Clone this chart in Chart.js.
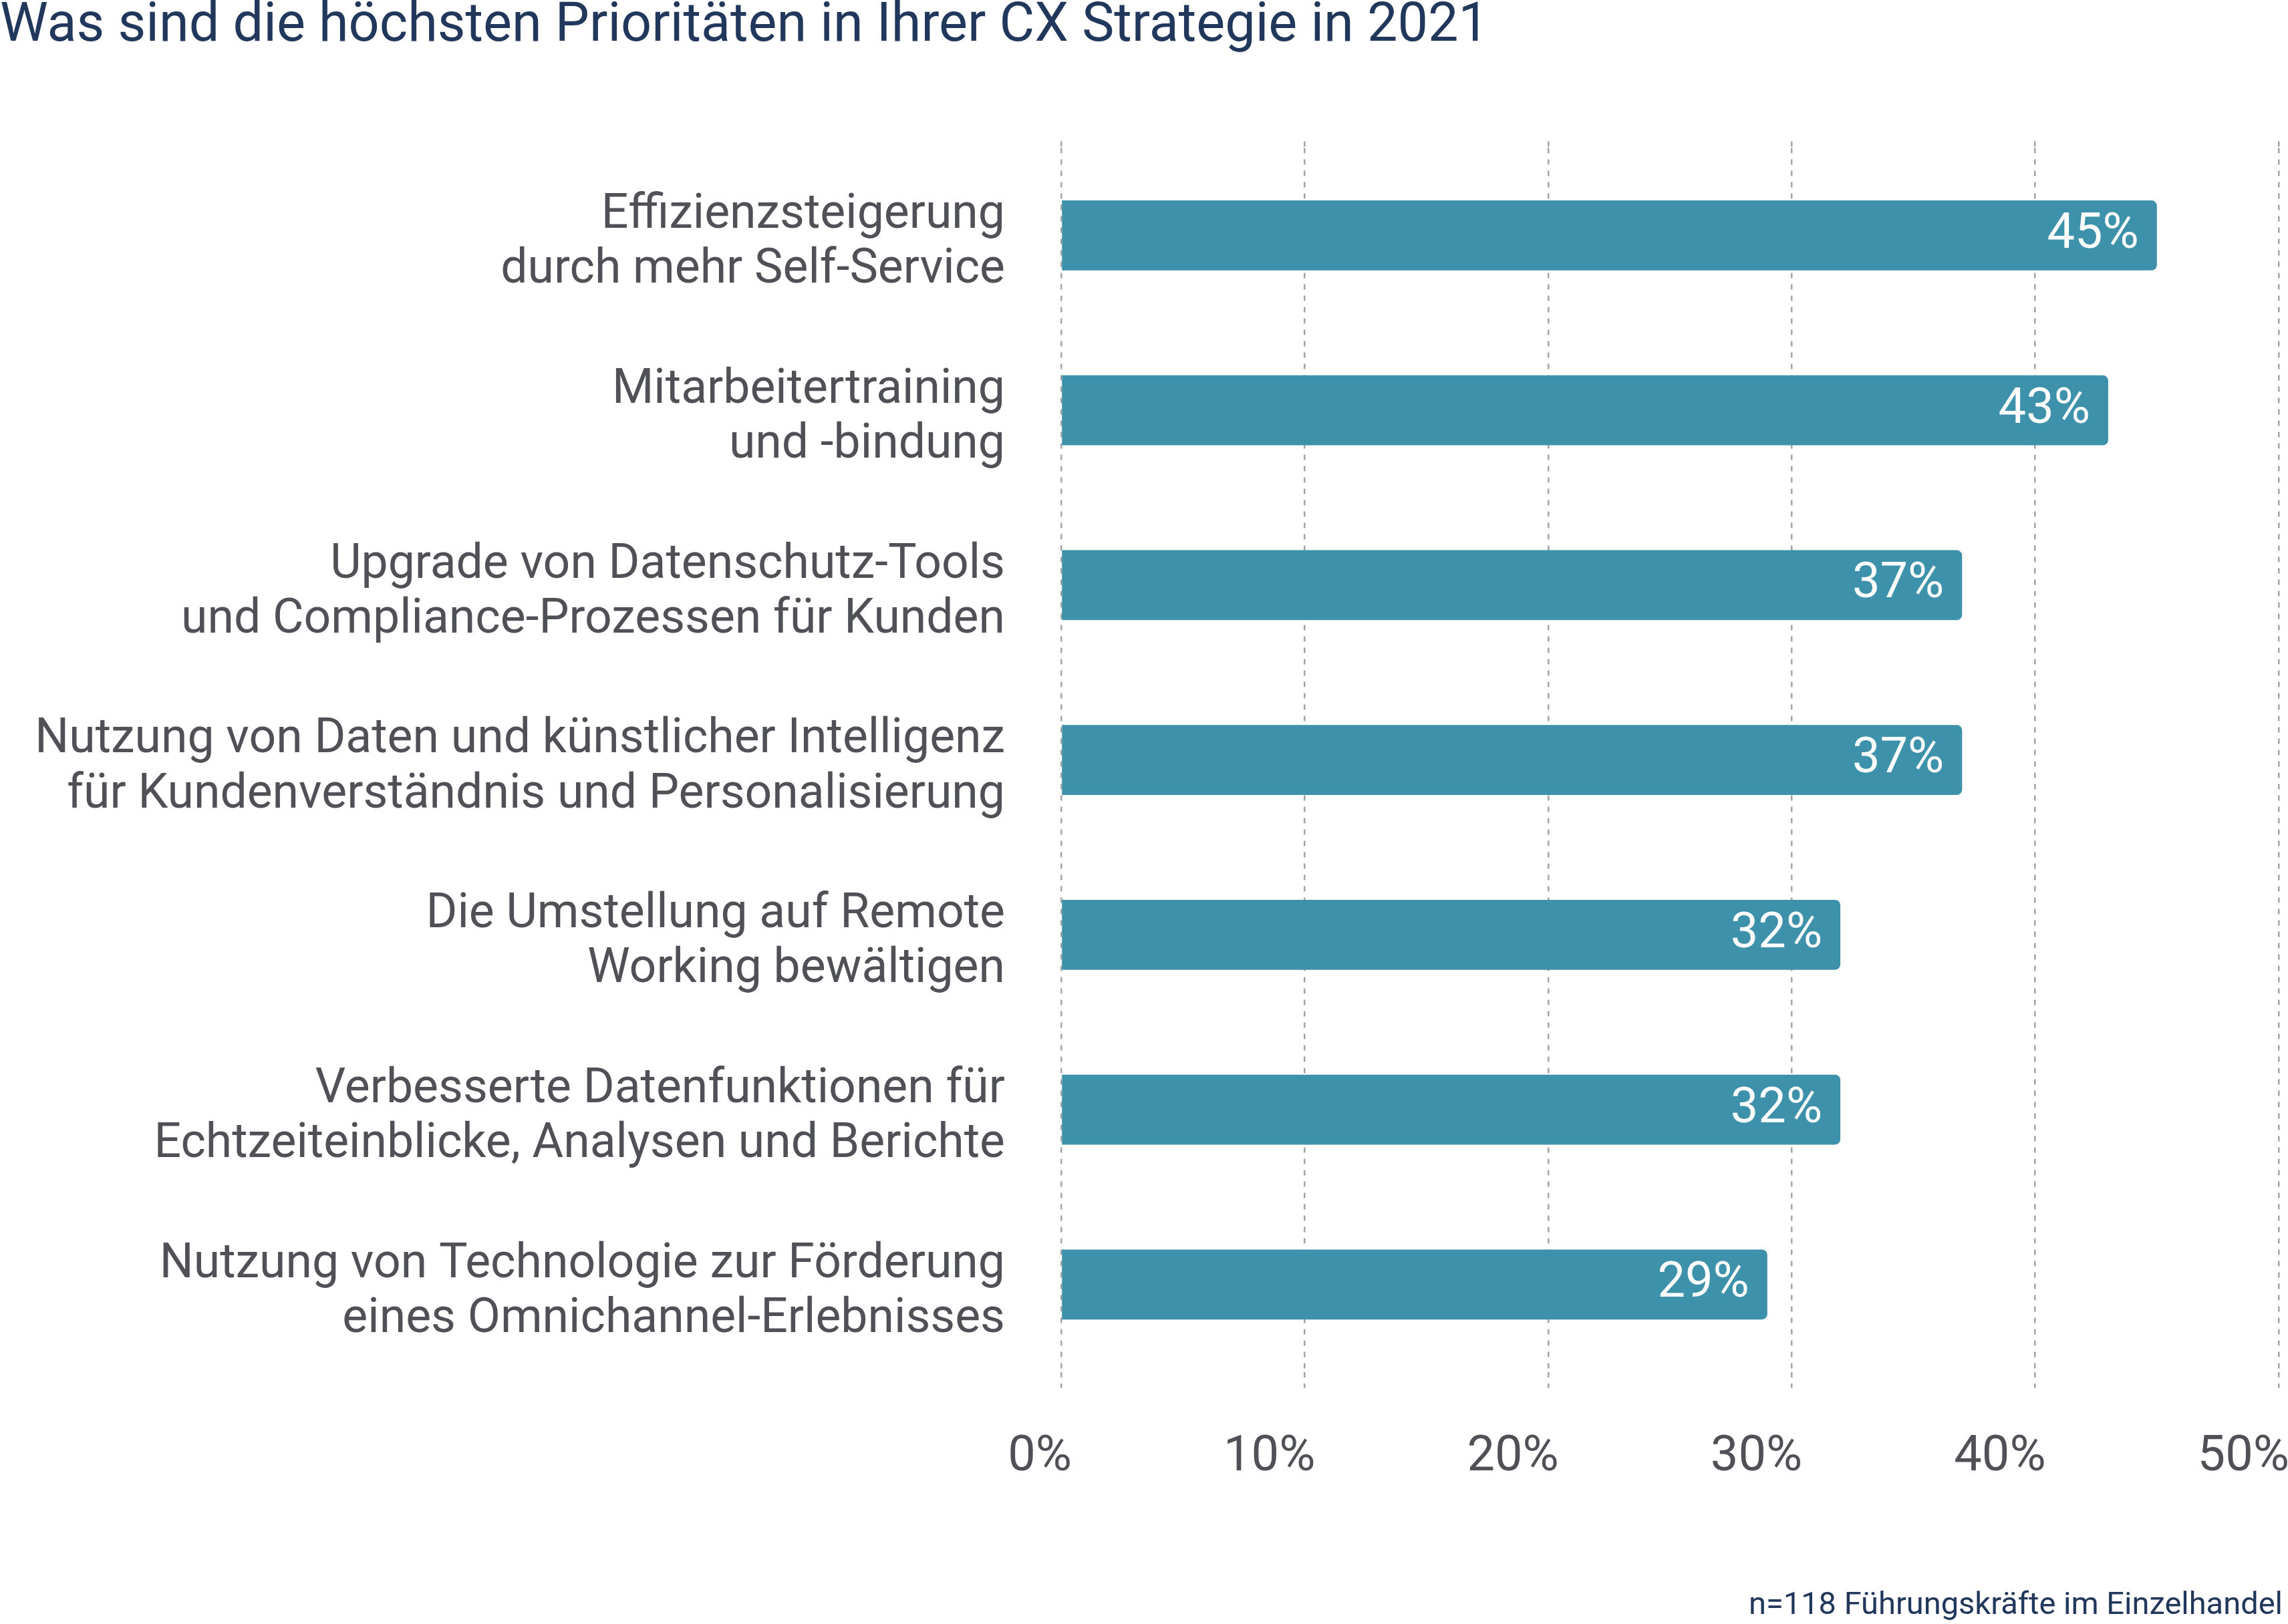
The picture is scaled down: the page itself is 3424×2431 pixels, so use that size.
<!DOCTYPE html>
<html><head><meta charset="utf-8">
<script src="https://cdn.jsdelivr.net/npm/chart.js@4.4.1/dist/chart.umd.min.js"></script>
<style>html,body{margin:0;padding:0;background:#fff;overflow:hidden;} #wrap{width:3424px;height:2431px;position:relative;}</style>
</head><body><div id="wrap"><canvas id="c"></canvas></div>
<script>
const titleText = 'Was sind die höchsten Prioritäten in Ihrer CX Strategie in 2021';
const footnoteText = 'n=118 Führungskräfte im Einzelhandel';
const categories = [
  ['Effizienzsteigerung', 'durch mehr Self-Service'],
  ['Mitarbeitertraining', 'und -bindung'],
  ['Upgrade von Datenschutz-Tools', 'und Compliance-Prozessen für Kunden'],
  ['Nutzung von Daten und künstlicher Intelligenz', 'für Kundenverständnis und Personalisierung'],
  ['Die Umstellung auf Remote', 'Working bewältigen'],
  ['Verbesserte Datenfunktionen für', 'Echtzeiteinblicke, Analysen und Berichte'],
  ['Nutzung von Technologie zur Förderung', 'eines Omnichannel-Erlebnisses']
];
const values = [45, 43, 37, 37, 32, 32, 29];
const xTickValues = [0, 10, 20, 30, 40, 50];
const xTickLabels = ['0%', '10%', '20%', '30%', '40%', '50%'];

const NAVY = '#22375c';
const GRAY = '#505156';
const BAR = '#3d91aa';
const GRID = '#a3a3a3';

const valueLabels = {
  id: 'valueLabels',
  afterDatasetsDraw(chart) {
    const ctx = chart.ctx;
    const meta = chart.getDatasetMeta(0);
    ctx.save();
    ctx.font = '74px Roboto';
    ctx.fillStyle = '#ffffff';
    ctx.textAlign = 'right';
    ctx.textBaseline = 'middle';
    meta.data.forEach((bar, i) => {
      ctx.fillText(values[i] + '%', bar.x - 27, bar.y);
    });
    ctx.restore();
  }
};

function setTicks(scale) {
  scale.ticks = xTickValues.map(v => ({ value: v }));
}

function draw() {
  new Chart(document.getElementById('c'), {
    type: 'bar',
    data: {
      labels: categories,
      datasets: [{
        data: values,
        backgroundColor: BAR,
        borderRadius: 8,
        borderSkipped: 'start',
        barPercentage: 0.4,
        categoryPercentage: 1.0,
        xAxisID: 'x',
        yAxisID: 'y'
      }]
    },
    options: {
      indexAxis: 'y',
      responsive: true,
      maintainAspectRatio: false,
      animation: false,
      devicePixelRatio: 1,
      layout: { padding: { left: 0, right: 8, top: 0, bottom: 0 } },
      plugins: {
        legend: { display: false },
        tooltip: { enabled: false },
        title: {
          display: true,
          text: titleText,
          align: 'start',
          color: NAVY,
          font: { family: 'Roboto', size: 81, weight: 'normal', lineHeight: 1.0 },
          padding: { top: 0, bottom: 130.6 }
        },
        subtitle: {
          display: true,
          text: footnoteText,
          position: 'bottom',
          align: 'end',
          color: NAVY,
          font: { family: 'Roboto', size: 47, weight: 'normal', lineHeight: 1.15 },
          padding: { top: 90, bottom: 0 }
        }
      },
      scales: {
        x: {
          type: 'linear',
          position: 'bottom',
          min: 0, max: 50,
          afterBuildTicks: setTicks,
          border: { display: false, dash: [8, 9] },
          grid: {
            color: GRID, lineWidth: 2.5,
            drawTicks: true, tickLength: 24, tickColor: GRID, tickWidth: 2.5, tickBorderDash: [8, 9]
          },
          ticks: {
            callback: (v, i) => xTickLabels[i],
            align: 'end',
            labelOffset: 16,
            padding: 14,
            color: GRAY,
            maxRotation: 0,
            autoSkip: false,
            font: { family: 'Roboto', size: 74, lineHeight: 2.45 }
          }
        },
        x2: {
          type: 'linear',
          position: 'top',
          min: 0, max: 50,
          afterBuildTicks: setTicks,
          border: { display: false, dash: [8, 9] },
          grid: {
            drawOnChartArea: false, color: GRID, lineWidth: 2.5,
            drawTicks: true, tickLength: 10, tickColor: GRID, tickWidth: 2.5, tickBorderDash: [8, 9]
          },
          ticks: { display: false }
        },
        y: {
          type: 'category',
          position: 'left',
          offset: true,
          afterFit: s => { s.width = 1588; },
          border: { display: false },
          grid: { display: false, drawTicks: false },
          ticks: {
            color: GRAY,
            padding: 84,
            labelOffset: 12,
            autoSkip: false,
            font: { family: 'Roboto', size: 71.5, lineHeight: 1.15 }
          }
        }
      }
    },
    plugins: [valueLabels]
  });
}

Promise.all([
  document.fonts.load('72px Roboto'),
  document.fonts.load('81px Roboto'),
  document.fonts.load('47px Roboto')
]).then(draw, draw);
</script>
</body></html>
